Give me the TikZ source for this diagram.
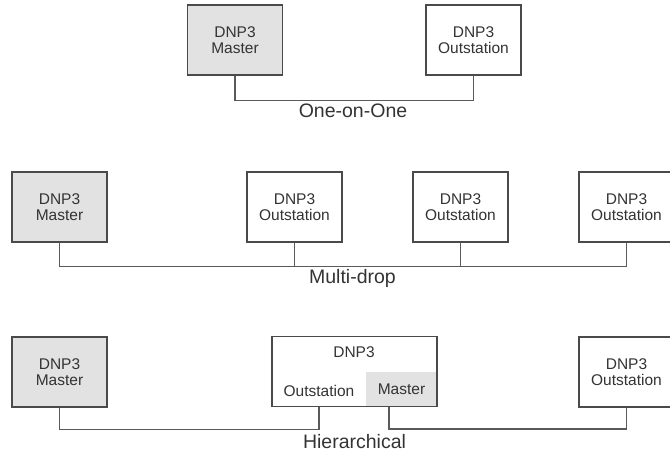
\documentclass[tikz,border=0pt]{standalone}
\usepackage{fontspec}
\setmainfont{Liberation Sans}
\definecolor{edge}{HTML}{4A4A4A}
\definecolor{wirec}{HTML}{5A5A5A}
\definecolor{ink}{HTML}{333333}
\definecolor{shade}{HTML}{E2E2E2}
\begin{document}
\begin{tikzpicture}[x=1pt,y=-1pt,
  box/.style={draw=edge, line width=1.3pt, fill=white, minimum width=95pt,
    minimum height=70pt, inner sep=0pt, align=center, text=ink,
    font=\fontsize{15.5}{16.5}\selectfont},
  masterbox/.style={box, fill=shade},
  wire/.style={draw=wirec, line width=1.4pt},
  caption/.style={text=ink, font=\fontsize{19.5}{22}\selectfont, anchor=base, inner sep=0pt},
  plain/.style={text=ink, font=\fontsize{15.5}{16.5}\selectfont, inner sep=0pt}]
\useasboundingbox (0,0) rectangle (670,454);

% One-on-One
\node[masterbox] (m1) at (235,40) {DNP3\\Master};
\node[box] (o1) at (473.5,40) {DNP3\\Outstation};
\draw[wire] (m1.south) -- ++(0,25) -| (o1.south);
\node[caption] (c1) at (353,118) {One-on-One};

% Multi-drop
\node[masterbox] (m2) at (59.5,207) {DNP3\\Master};
\node[box] (o21) at (294.5,207) {DNP3\\Outstation};
\node[box] (o22) at (460.5,207) {DNP3\\Outstation};
\node[box] (o23) at (626.5,207) {DNP3\\Outstation};
\draw[wire] (m2.south) -- ++(0,24) -| (o23.south);
\draw[wire] (o21.south) -- ++(0,24);
\draw[wire] (o22.south) -- ++(0,24);
\node[caption] (c2) at (352.5,284) {Multi-drop};

% Hierarchical
\node[masterbox] (m3) at (59.5,372) {DNP3\\Master};
\node[plain, fill=shade, minimum width=71pt, minimum height=35pt] (hm) at (401.5,389.5) {Master};
\node[box, fill=none, minimum width=165pt] (h) at (354.5,371.5) {};
\node[plain] (ht) at (354,352) {DNP3};
\node[plain] (ho) at (319,391) {Outstation};
\coordinate (hport) at (389,407);
\node[box] (o3) at (626.5,372) {DNP3\\Outstation};
\draw[wire] (m3.south) -- ++(0,22) -| (h.south -| ho);
\draw[wire] (hport) -- ++(0,22) -| (o3.south);
\node[caption] (c3) at (354.5,449) {Hierarchical};
\end{tikzpicture}
\end{document}
